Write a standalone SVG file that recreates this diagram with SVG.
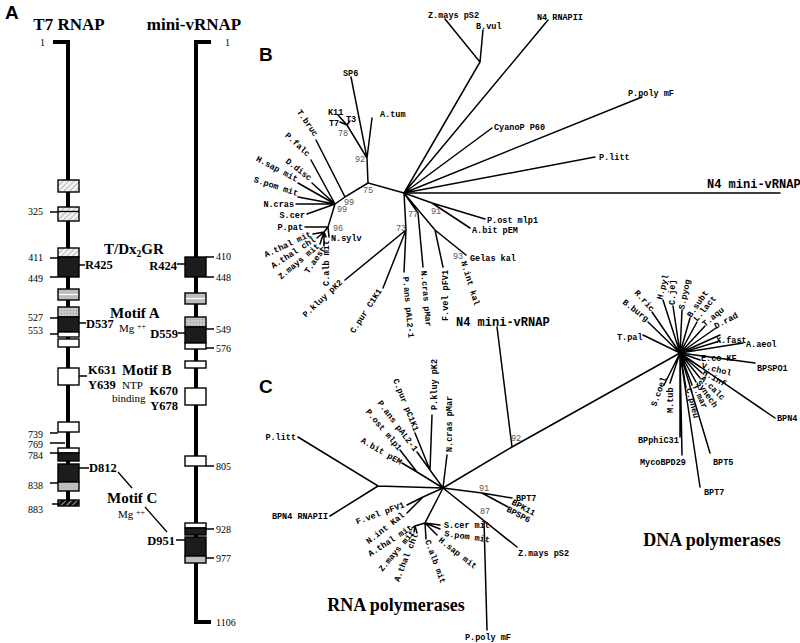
<svg xmlns="http://www.w3.org/2000/svg" width="800" height="643" viewBox="0 0 800 643">
<defs>
<pattern id="hatch" width="4" height="4" patternUnits="userSpaceOnUse" patternTransform="rotate(45)"><rect width="4" height="4" fill="#f2f2f2"/><line x1="0" y1="0" x2="0" y2="4" stroke="#999" stroke-width="1.3"/></pattern>
<pattern id="hatchdark" width="4" height="4" patternUnits="userSpaceOnUse" patternTransform="rotate(45)"><rect width="4" height="4" fill="#111"/><line x1="0" y1="0" x2="0" y2="4" stroke="#fff" stroke-width="1.2"/></pattern>
<pattern id="dots" width="3" height="3" patternUnits="userSpaceOnUse"><rect width="3" height="3" fill="#c8c8c8"/><circle cx="1.5" cy="1.5" r="0.7" fill="#999"/></pattern>
</defs>
<style>
.bar{stroke:#000;stroke-width:4;fill:none}
.bx{stroke:#000;stroke-width:1.4}
.tk{stroke:#000;stroke-width:1.3;fill:none}
.w{fill:#fff}.dk{fill:#1c1c1c}.gr{fill:#bdbdbd}.ht{fill:url(#hatch)}.hd{fill:url(#hatchdark)}.dt{fill:url(#dots)}
.num{font-family:"Liberation Serif",serif;font-size:10px;fill:#000}
.res{font-family:"Liberation Serif",serif;font-size:12.5px;font-weight:bold;fill:#000}
.hd1{font-family:"Liberation Serif",serif;font-size:17px;font-weight:bold;fill:#000}
.mot{font-family:"Liberation Serif",serif;font-size:15px;font-weight:bold;fill:#000}
.sm{font-family:"Liberation Serif",serif;font-size:11px;fill:#000}
.pl{font-family:"Liberation Sans",Arial,sans-serif;font-size:19px;font-weight:bold;fill:#000}
.ln{stroke:#000;stroke-width:1.5;fill:none;stroke-linecap:round}
.lt{font-family:"Liberation Mono",monospace;font-size:8.5px;font-weight:bold;fill:#000}
.bs{font-family:"Liberation Mono",monospace;font-size:8.5px;fill:#555}
.big{font-family:"Liberation Mono",monospace;font-size:12px;font-weight:bold;fill:#000}
.cap{font-family:"Liberation Serif",serif;font-size:18px;font-weight:bold;fill:#000}
</style>
<rect width="800" height="643" fill="#fff"/>

<!-- ============ PANEL A ============ -->
<g id="panelA">
<text class="pl" x="5" y="19" font-size="16">A</text>
<text class="hd1" x="69" y="30" text-anchor="middle">T7 RNAP</text>
<text class="hd1" x="194" y="30" text-anchor="middle">mini-vRNAP</text>

<g id="t7-track">
<path class="bar" d="M53,42 H68 V504"/>
<text class="num" x="40" y="46">1</text>
<rect class="bx ht" x="58" y="180" width="21" height="12"/>
<rect class="bx ht" x="58" y="207" width="21" height="14"/>
<line class="tk" x1="58" y1="211.5" x2="79" y2="211.5"/>
<rect class="bx ht" x="58" y="248" width="21" height="9"/>
<rect class="bx dk" x="58" y="257" width="21" height="20"/>
<rect class="bx gr" x="58" y="289" width="21" height="11"/>
<line x1="59" y1="294.5" x2="78" y2="294.5" stroke="#fff" stroke-width="1.2"/>
<rect class="bx dt" x="58" y="307" width="21" height="10"/>
<rect class="bx dk" x="58" y="317" width="21" height="15"/>
<rect class="bx w" x="58" y="332" width="21" height="5"/>
<rect class="bx w" x="58" y="339" width="21" height="8"/>
<rect class="bx w" x="58" y="368" width="21" height="17"/>
<rect class="bx w" x="58" y="422" width="21" height="10"/>
<rect class="bx w" x="58" y="448" width="21" height="5"/>
<rect class="bx dk" x="58" y="453" width="21" height="8"/>
<rect class="bx dk" x="58" y="464" width="21" height="18"/>
<rect class="bx gr" x="58" y="482" width="21" height="9"/>
<rect class="bx hd" x="58" y="500" width="21" height="6"/>
<path class="tk" d="M50,212 H58 M50,258 H58 M50,277 H58 M50,318 H58 M50,334 H58 M50,433 H58 M50,443 H65 M50,453 H58 M50,483 H58 M52,504 H58"/>
<text class="num" x="43" y="215" text-anchor="end">325</text>
<text class="num" x="43" y="261" text-anchor="end">411</text>
<text class="num" x="43" y="282" text-anchor="end">449</text>
<text class="num" x="43" y="321" text-anchor="end">527</text>
<text class="num" x="43" y="334" text-anchor="end">553</text>
<text class="num" x="43" y="438" text-anchor="end">739</text>
<text class="num" x="43" y="448" text-anchor="end">769</text>
<text class="num" x="43" y="459" text-anchor="end">784</text>
<text class="num" x="43" y="489" text-anchor="end">838</text>
<text class="num" x="43" y="513" text-anchor="end">883</text>
<path class="tk" d="M79,265 H85 M79,323 H86 M79,376 H87 M79,468 H89"/>
<text class="res" x="85" y="269">R425</text>
<text class="res" x="86" y="328">D537</text>
<text class="res" x="88" y="374">K631</text>
<text class="res" x="88" y="389">Y639</text>
<text class="res" x="89" y="472">D812</text>
</g>

<g id="mini-track">
<path class="bar" d="M211,42 H196 V622 H211"/>
<text class="num" x="225" y="46">1</text>
<text class="num" x="216" y="626">1106</text>
<rect class="bx dk" x="185" y="257" width="21" height="20"/>
<rect class="bx gr" x="185" y="293" width="21" height="11"/>
<line x1="186" y1="298.5" x2="205" y2="298.5" stroke="#fff" stroke-width="1.2"/>
<rect class="bx dt" x="185" y="317" width="21" height="10"/>
<rect class="bx dk" x="185" y="327" width="21" height="16"/>
<rect class="bx w" x="185" y="343" width="21" height="6"/>
<rect class="bx w" x="185" y="361" width="21" height="7"/>
<rect class="bx w" x="185" y="388" width="21" height="17"/>
<rect class="bx w" x="185" y="456" width="21" height="10"/>
<rect class="bx w" x="185" y="523" width="21" height="5"/>
<rect class="bx dk" x="185" y="528" width="21" height="7"/>
<rect class="bx dk" x="185" y="537" width="21" height="19"/>
<rect class="bx gr" x="185" y="556" width="21" height="7"/>
<path class="tk" d="M206,257 H214 M206,277 H214 M206,329 H214 M206,348 H214 M206,466 H214 M206,529 H214 M206,558 H214"/>
<text class="num" x="216" y="260">410</text>
<text class="num" x="216" y="281">448</text>
<text class="num" x="216" y="333">549</text>
<text class="num" x="216" y="352">576</text>
<text class="num" x="216" y="470">805</text>
<text class="num" x="216" y="533">928</text>
<text class="num" x="216" y="562">977</text>
<path class="tk" d="M177,264 H185 M178,333 H185 M176,540 H185"/>
<text class="res" x="177" y="270" text-anchor="end">R424</text>
<text class="res" x="178" y="338" text-anchor="end">D559</text>
<text class="res" x="178" y="395" text-anchor="end">K670</text>
<text class="res" x="178" y="410" text-anchor="end">Y678</text>
<text class="res" x="175" y="545" text-anchor="end">D951</text>
</g>

<g id="motifs">
<text class="mot" x="104" y="254" font-size="14.5">T/Dx<tspan font-size="9.5" dy="3">2</tspan><tspan dy="-3">GR</tspan></text>
<text class="mot" x="110" y="318">Motif A</text>
<text class="sm" x="119" y="332">Mg <tspan font-size="8" dy="-3">++</tspan></text>
<text class="mot" x="122" y="375">Motif B</text>
<text class="sm" x="122" y="389">NTP</text>
<text class="sm" x="112" y="402">binding</text>
<text class="mot" x="107" y="503">Motif C</text>
<text class="sm" x="118" y="518">Mg <tspan font-size="8" dy="-3">++</tspan></text>
<path class="tk" d="M118,472 L132,488 M145,507 L167,532"/>
</g>
</g>

<!-- ============ PANEL B ============ -->
<g id="panelB">
<text class="pl" x="259" y="61">B</text>
<g id="treeB-connectors">
<path class="ln" d="M404,193 L480,62 L445,19 M480,62 L483,30 M404,193 L548,20 M404,193 L492,128 M404,193 L642,97 M404,193 L595,157"/>
<path class="ln" d="M404,193 H780" stroke-width="2.4"/>
<path class="ln" d="M404,193 L432,203 L485,219 M432,203 L470,228 M404,193 L435,230 L466,255 M435,230 L443,267 M404,193 L418,213 L423,267 M404,193 L406,230 L345,280 M406,230 L383,288 M406,230 L404,272"/>
<path class="ln" d="M404,193 L368,183 L367,158 L351,77 M367,158 L372,118 M367,158 L347,125 L338,115 M347,125 L340,122 M347,125 L350,121"/>
<path class="ln" d="M368,183 L345,197 L316,140 M345,197 L335,204 L311,160 M335,204 L312,183 M335,204 L298,183 M335,204 L298,197 M335,204 L296,204 M335,204 L307,214 M335,204 L328,227 L305,227 M328,227 L324,232 L313,234 M324,232 L317,238 M324,232 L320,244 M324,232 L324,246 M324,232 L326,237 M328,227 L329,237"/>
</g>
<g id="treeB-labels">
<text class="lt" x="428" y="18">Z.mays pS2</text>
<text class="lt" x="476" y="29">B.vul</text>
<text class="lt" x="537" y="20">N4 RNAPII</text>
<text class="lt" x="628" y="96">P.poly mF</text>
<text class="lt" x="494" y="130">CyanoP P60</text>
<text class="lt" x="599" y="160">P.litt</text>
<text class="big" x="707" y="188">N4 mini-vRNAP</text>
<text class="lt" x="487" y="223">P.ost mlp1</text>
<text class="lt" x="472" y="233">A.bit pEM</text>
<text class="lt" x="470" y="261">Gelas kal</text>
<text class="lt" transform="translate(461,262) rotate(73)">N.int kal</text>
<text class="lt" transform="translate(448,270) rotate(-90)" text-anchor="end">F.vel pFV1</text>
<text class="lt" transform="translate(421,271) rotate(85)">N.cras pMar</text>
<text class="lt" transform="translate(403,277) rotate(85)">P.ans pAL2-1</text>
<text class="lt" transform="translate(382,291) rotate(-57)" text-anchor="end">C.pur C1K1</text>
<text class="lt" transform="translate(343,283) rotate(-43)" text-anchor="end">P.kluy pK2</text>
<text class="lt" x="343" y="76">SP6</text>
<text class="lt" x="380" y="117">A.tum</text>
<text class="lt" x="328" y="115">K11</text>
<text class="lt" x="329" y="126">T7</text>
<text class="lt" x="346" y="122">T3</text>
<text class="lt" transform="translate(314,137) rotate(55)" text-anchor="end">T.bruc</text>
<text class="lt" transform="translate(307,157) rotate(43)" text-anchor="end">P.falc</text>
<text class="lt" transform="translate(309,181) rotate(38)" text-anchor="end">D.disc</text>
<text class="lt" transform="translate(296,182) rotate(28)" text-anchor="end">H.sap mit</text>
<text class="lt" transform="translate(297,196) rotate(18)" text-anchor="end">S.pom mit</text>
<text class="lt" x="294" y="207" text-anchor="end">N.cras</text>
<text class="lt" x="305" y="218" text-anchor="end">S.cer</text>
<text class="lt" x="303" y="230" text-anchor="end">P.pat</text>
<text class="lt" transform="translate(312,236) rotate(-25)" text-anchor="end">A.thal mit</text>
<text class="lt" transform="translate(316,241) rotate(-33)" text-anchor="end">A.thal chl</text>
<text class="lt" transform="translate(320,247) rotate(-40)" text-anchor="end">Z.mays mit</text>
<text class="lt" transform="translate(326,249) rotate(-55)" text-anchor="end">T.aest</text>
<text class="lt" transform="translate(329,240) rotate(-90)" text-anchor="end">C.alb mit</text>
<text class="lt" x="331" y="241">N.sylv</text>
<text class="bs" x="338" y="136">78</text>
<text class="bs" x="355" y="162">92</text>
<text class="bs" x="363" y="193">75</text>
<text class="bs" x="344" y="205">99</text>
<text class="bs" x="337" y="212">99</text>
<text class="bs" x="333" y="231">96</text>
<text class="bs" x="396" y="231">73</text>
<text class="bs" x="408" y="217">77</text>
<text class="bs" x="431" y="214">91</text>
<text class="bs" x="453" y="259">93</text>
</g>
</g>

<!-- ============ PANEL C ============ -->
<g id="panelC">
<text class="pl" x="259" y="393">C</text>
<g id="treeC-connectors">
<path class="ln" d="M497,327 L512,447 M512,447 L680,353 M512,447 L443,488"/>
<path class="ln" d="M443,488 L378,486 L298,437 M378,486 L330,516 M443,488 L417,472 L402,463 M417,472 L400,450 M443,488 L430,470 L417,452 M430,470 L415,433 M430,470 L432,415 M443,488 L447,455 M443,488 L423,497 L407,505 M423,497 L407,513"/>
<path class="ln" d="M443,488 L425,523 L440,525 M425,523 L440,529 M425,523 L437,535 M425,523 L415,526 L412,528 M415,526 L414,532 M415,526 L417,533 M425,523 L426,539"/>
<path class="ln" d="M443,488 L482,493 L512,498 M482,493 L508,507 M443,488 L517,547 M484,521 L487,630"/>
<path class="ln" d="M680,353 L743,343 M680,353 L720,341 M680,353 L755,363 M680,353 L775,418 M680,353 L710,453 M680,353 L700,487 M680,353 L682,455 M680,353 L680,437 M680,353 L670,383 M680,353 L664,385"/>
<path class="ln" d="M680,353 L643,335 M680,353 L648,322 M680,353 L652,312 M680,353 L663,300 M680,353 L673,306 M680,353 L682,310 M680,353 L690,318 M680,353 L697,322 M680,353 L705,326 M680,353 L716,328 M680,353 L720,335"/>
<path class="ln" d="M680,353 L700,360 M680,353 L700,367 M680,353 L702,373 M680,353 L700,378 M680,353 L696,382 M680,353 L692,385 M680,353 L686,388"/>
</g>
<g id="treeC-labels">
<text class="big" x="456" y="326">N4 mini-vRNAP</text>
<text class="bs" x="511" y="441">92</text>
<text class="lt" x="296" y="440" text-anchor="end">P.litt</text>
<text class="lt" x="328" y="519" text-anchor="end">BPN4 RNAPII</text>
<text class="lt" transform="translate(400,465) rotate(30)" text-anchor="end">A.bit pEM</text>
<text class="lt" transform="translate(398,451) rotate(50)" text-anchor="end">P.ost mlp1</text>
<text class="lt" transform="translate(414,452) rotate(53)" text-anchor="end">P.ans pAL2-1</text>
<text class="lt" transform="translate(414,432) rotate(68)" text-anchor="end">C.pur pC1K1</text>
<text class="lt" transform="translate(437,410) rotate(-90)">P.kluy pK2</text>
<text class="lt" transform="translate(452,452) rotate(-90)">N.cras pMar</text>
<text class="lt" transform="translate(405,507) rotate(-20)" text-anchor="end">F.vel pFV1</text>
<text class="lt" transform="translate(405,516) rotate(-38)" text-anchor="end">N.int Kal</text>
<text class="lt" transform="translate(413,529) rotate(-33)" text-anchor="end">A.thal mit</text>
<text class="lt" transform="translate(415,533) rotate(-50)" text-anchor="end">Z.mays mit</text>
<text class="lt" transform="translate(418,535) rotate(-68)" text-anchor="end">A.thal chl</text>
<text class="lt" transform="translate(425,541) rotate(70)">C.alb mit</text>
<text class="lt" x="444" y="528">S.cer mit</text>
<text class="lt" transform="translate(444,536) rotate(8)">S.pom mit</text>
<text class="lt" transform="translate(438,541) rotate(38)">H.sap mit</text>
<text class="lt" x="516" y="501">BPT7</text>
<text class="lt" transform="translate(511,504) rotate(28)">BPK11</text>
<text class="lt" transform="translate(506,511) rotate(28)">BPSP6</text>
<text class="lt" x="518" y="556">Z.mays pS2</text>
<text class="lt" x="465" y="640">P.poly mF</text>
<text class="bs" x="479" y="491">91</text>
<text class="bs" x="480" y="514">87</text>
<text class="cap" x="396" y="611" text-anchor="middle">RNA polymerases</text>

<text class="lt" x="746" y="347">A.aeol</text>
<text class="lt" x="716" y="343">X.fast</text>
<text class="lt" x="757" y="371">BPSPO1</text>
<text class="lt" x="777" y="421">BPN4</text>
<text class="lt" x="713" y="465">BPT5</text>
<text class="lt" x="704" y="495">BPT7</text>
<text class="lt" x="640" y="465">MycoBPD29</text>
<text class="lt" x="638" y="443">BPphiC31</text>
<text class="lt" transform="translate(673,413) rotate(-90)">M.tub</text>
<text class="lt" transform="translate(656,407) rotate(-70)">S.coel</text>
<text class="lt" x="617" y="340">T.pal</text>
<text class="lt" transform="translate(646,322) rotate(38)" text-anchor="end">B.burg</text>
<text class="lt" transform="translate(651,312) rotate(48)" text-anchor="end">R.ric</text>
<text class="lt" transform="translate(662,300) rotate(-75)">H.pyl</text>
<text class="lt" transform="translate(675,305) rotate(-90)">C.jej</text>
<text class="lt" transform="translate(684,310) rotate(-78)">S.pyog</text>
<text class="lt" transform="translate(691,318) rotate(-55)">B.subt</text>
<text class="lt" transform="translate(697,322) rotate(-50)">L.lact</text>
<text class="lt" transform="translate(705,327) rotate(-40)">T.aqu</text>
<text class="lt" transform="translate(716,329) rotate(-28)">D.rad</text>
<text class="lt" x="701" y="361">E.co KF</text>
<text class="lt" transform="translate(701,368) rotate(15)">V.chol</text>
<text class="lt" transform="translate(702,374) rotate(30)">H.inf</text>
<text class="lt" transform="translate(700,379) rotate(45)">A.calc</text>
<text class="lt" transform="translate(696,383) rotate(55)">Synech</text>
<text class="lt" transform="translate(692,386) rotate(65)">T.mar</text>
<text class="lt" transform="translate(686,389) rotate(75)">C.pneu</text>
<text class="cap" x="712" y="546" text-anchor="middle">DNA polymerases</text>
</g>
</g>
</svg>
